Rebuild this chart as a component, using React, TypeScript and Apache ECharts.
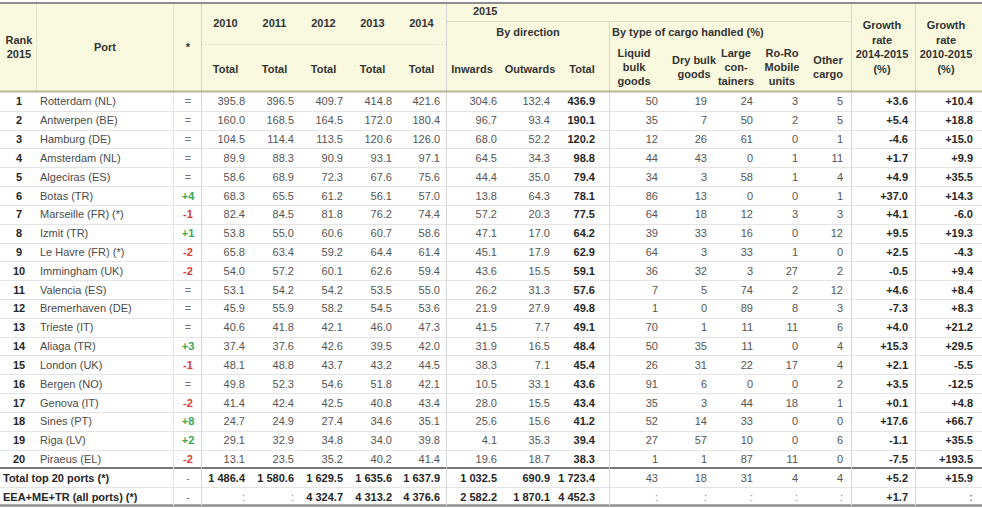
import React, { useEffect, useRef } from 'react';
import * as echarts from 'echarts';

// ---------- DATA ----------
const ranks = ['1', '2', '3', '4', '5', '6', '7', '8', '9', '10', '11', '12', '13', '14', '15', '16', '17', '18', '19', '20'];
const ports = [
  'Rotterdam (NL)', 'Antwerpen (BE)', 'Hamburg (DE)', 'Amsterdam (NL)', 'Algeciras (ES)',
  'Botas (TR)', 'Marseille (FR) (*)', 'Izmit (TR)', 'Le Havre (FR) (*)', 'Immingham (UK)',
  'Valencia (ES)', 'Bremerhaven (DE)', 'Trieste (IT)', 'Aliaga (TR)', 'London (UK)',
  'Bergen (NO)', 'Genova (IT)', 'Sines (PT)', 'Riga (LV)', 'Piraeus (EL)',
];
const rankChanges = ['=', '=', '=', '=', '=', '+4', '-1', '+1', '-2', '-2', '=', '=', '=', '+3', '-1', '=', '-2', '+8', '+2', '-2'];
const total2010 = [395.8, 160.0, 104.5, 89.9, 58.6, 68.3, 82.4, 53.8, 65.8, 54.0, 53.1, 45.9, 40.6, 37.4, 48.1, 49.8, 41.4, 24.7, 29.1, 13.1];
const total2011 = [396.5, 168.5, 114.4, 88.3, 68.9, 65.5, 84.5, 55.0, 63.4, 57.2, 54.2, 55.9, 41.8, 37.6, 48.8, 52.3, 42.4, 24.9, 32.9, 23.5];
const total2012 = [409.7, 164.5, 113.5, 90.9, 72.3, 61.2, 81.8, 60.6, 59.2, 60.1, 54.2, 58.2, 42.1, 42.6, 43.7, 54.6, 42.5, 27.4, 34.8, 35.2];
const total2013 = [414.8, 172.0, 120.6, 93.1, 67.6, 56.1, 76.2, 60.7, 64.4, 62.6, 53.5, 54.5, 46.0, 39.5, 43.2, 51.8, 40.8, 34.6, 34.0, 40.2];
const total2014 = [421.6, 180.4, 126.0, 97.1, 75.6, 57.0, 74.4, 58.6, 61.4, 59.4, 55.0, 53.6, 47.3, 42.0, 44.5, 42.1, 43.4, 35.1, 39.8, 41.4];
const inwards2015 = [304.6, 96.7, 68.0, 64.5, 44.4, 13.8, 57.2, 47.1, 45.1, 43.6, 26.2, 21.9, 41.5, 31.9, 38.3, 10.5, 28.0, 25.6, 4.1, 19.6];
const outwards2015 = [132.4, 93.4, 52.2, 34.3, 35.0, 64.3, 20.3, 17.0, 17.9, 15.5, 31.3, 27.9, 7.7, 16.5, 7.1, 33.1, 15.5, 15.6, 35.3, 18.7];
const total2015 = [436.9, 190.1, 120.2, 98.8, 79.4, 78.1, 77.5, 64.2, 62.9, 59.1, 57.6, 49.8, 49.1, 48.4, 45.4, 43.6, 43.4, 41.2, 39.4, 38.3];
const liquidBulk = [50, 35, 12, 44, 34, 86, 64, 39, 64, 36, 7, 1, 70, 50, 26, 91, 35, 52, 27, 1];
const dryBulk = [19, 7, 26, 43, 3, 13, 18, 33, 3, 32, 5, 0, 1, 35, 31, 6, 3, 14, 57, 1];
const largeContainers = [24, 50, 61, 0, 58, 0, 12, 16, 33, 3, 74, 89, 11, 11, 22, 0, 44, 33, 10, 87];
const roRoUnits = [3, 2, 0, 1, 1, 0, 3, 0, 1, 27, 2, 8, 11, 0, 17, 0, 18, 0, 0, 11];
const otherCargo = [5, 5, 1, 11, 4, 1, 3, 12, 0, 2, 12, 3, 6, 4, 4, 2, 1, 0, 6, 0];
const growth1415 = [3.6, 5.4, -4.6, 1.7, 4.9, 37.0, 4.1, 9.5, 2.5, -0.5, 4.6, -7.3, 4.0, 15.3, 2.1, 3.5, 0.1, 17.6, -1.1, -7.5];
const growth1015 = [10.4, 18.8, 15.0, 9.9, 35.5, 14.3, -6.0, 19.3, -4.3, 9.4, 8.4, 8.3, 21.2, 29.5, -5.5, -12.5, 4.8, 66.7, 35.5, 193.5];

const totalLabels = ['Total top 20 ports (*)', 'EEA+ME+TR (all ports) (*)'];
const totalChanges = ['-', '-'];
// column order: 2010..2014, inwards, outwards, total, liquid, dry, containers, roro, other, growth 14-15, growth 10-15
const top20Totals = [1486.4, 1580.6, 1629.5, 1635.6, 1637.9, 1032.5, 690.9, 1723.4, 43, 18, 31, 4, 4, 5.2, 15.9];
const allPortsTotals = [null, null, 4324.7, 4313.2, 4376.6, 2582.2, 1870.1, 4452.3, null, null, null, null, null, 1.7, null];

const yearLabels = ['2010', '2011', '2012', '2013', '2014'];

// ---------- LAYOUT ----------
const W = 982;
const FONT = '"Liberation Sans", Arial, sans-serif';
const HEADER_TOP = 3;
const HEADER_BOTTOM = 92;
const colRight = [245, 294, 343, 392, 440, 497, 550, 595, 658, 707, 753, 798, 843, 908, 973];
const colKind = ['t', 't', 't', 't', 't', 't', 't', 't', 'p', 'p', 'p', 'p', 'p', 'g', 'g'];
const colBold = [false, false, false, false, false, false, false, true, false, false, false, false, false, true, true];
const yearCenters = [225.5, 274.5, 323.5, 372.5, 421.5];

const C_TEXT = '#555555';
const C_PORT = '#4a4a4a';
const C_BOLD = '#262626';
const C_HEAD = '#333333';
const C_GREEN = '#35a853';
const C_RED = '#e03a32';

function fmtT(v: number | null, grouped: boolean): string {
  if (v === null) return ':';
  const s = v.toFixed(1);
  if (!grouped) return s;
  const [ip, dp] = s.split('.');
  return ip.replace(/\B(?=(\d{3})+(?!\d))/g, ' ') + '.' + dp;
}
function fmtG(v: number | null): string {
  if (v === null) return ':';
  return v > 0 ? '+' + v.toFixed(1) : v.toFixed(1);
}
function fmtCell(v: number | null, kind: string, grouped: boolean): string {
  if (v === null) return ':';
  if (kind === 'p') return String(v);
  if (kind === 'g') return fmtG(v);
  return fmtT(v, grouped);
}

function rowValues(i: number): (number | null)[] {
  if (i < 20) {
    return [
      total2010[i], total2011[i], total2012[i], total2013[i], total2014[i],
      inwards2015[i], outwards2015[i], total2015[i],
      liquidBulk[i], dryBulk[i], largeContainers[i], roRoUnits[i], otherCargo[i],
      growth1415[i], growth1015[i],
    ];
  }
  return i === 20 ? top20Totals : allPortsTotals;
}

function txt(x: number, y: number, text: string, align: string, font: string, fill: string, extra: any = {}) {
  return {
    type: 'text',
    silent: true,
    z: 10,
    style: {
      x, y, text,
      align, verticalAlign: 'middle',
      textAlign: align, textVerticalAlign: 'middle',
      font, fill,
      ...extra,
    },
  };
}
function ln(x1: number, y1: number, x2: number, y2: number, stroke: string, lineWidth: number, extra: any = {}) {
  return {
    type: 'line',
    silent: true,
    z: 5,
    shape: { x1, y1, x2, y2 },
    style: { stroke, lineWidth, ...extra },
  };
}

export default function App() {
  const ref = useRef<HTMLDivElement>(null);

  useEffect(() => {
    if (!ref.current) return;
    const chart = echarts.init(ref.current, null, { renderer: 'svg' });

    const hb = 'bold 11px ' + FONT;
    const header: any[] = [];
    header.push({ type: 'rect', silent: true, z: 1, shape: { x: 0, y: HEADER_TOP, width: W, height: HEADER_BOTTOM - HEADER_TOP }, style: { fill: '#f9f9df' } });
    // header texts
    header.push(txt(19, 47, 'Rank\n2015', 'center', hb, C_HEAD, { lineHeight: 14 }));
    header.push(txt(105, 47, 'Port', 'center', hb, C_HEAD));
    header.push(txt(188, 47, '*', 'center', hb, C_HEAD));
    yearLabels.forEach((yl, k) => {
      header.push(txt(yearCenters[k], 23, yl, 'center', hb, C_HEAD));
      header.push(txt(yearCenters[k], 69, 'Total', 'center', hb, C_HEAD));
    });
    header.push(txt(473, 11, '2015', 'left', hb, C_HEAD));
    header.push(txt(528, 32, 'By direction', 'center', hb, C_HEAD));
    header.push(txt(612, 32, 'By type of cargo handled (%)', 'left', hb, C_HEAD));
    header.push(txt(472, 69, 'Inwards', 'center', hb, C_HEAD));
    header.push(txt(530, 69, 'Outwards', 'center', hb, C_HEAD));
    header.push(txt(582, 69, 'Total', 'center', hb, C_HEAD));
    header.push(txt(634, 67, 'Liquid\nbulk\ngoods', 'center', hb, C_HEAD, { lineHeight: 14 }));
    header.push(txt(694, 67, 'Dry bulk\ngoods', 'center', hb, C_HEAD, { lineHeight: 14 }));
    header.push(txt(736, 67, 'Large\ncon-\ntainers', 'center', hb, C_HEAD, { lineHeight: 14 }));
    header.push(txt(782, 67, 'Ro-Ro\nMobile\nunits', 'center', hb, C_HEAD, { lineHeight: 14 }));
    header.push(txt(828, 67, 'Other\ncargo', 'center', hb, C_HEAD, { lineHeight: 14 }));
    header.push(txt(882, 47, 'Growth\nrate\n2014-2015\n(%)', 'center', hb, C_HEAD, { lineHeight: 14.6 }));
    header.push(txt(946, 47, 'Growth\nrate\n2010-2015\n(%)', 'center', hb, C_HEAD, { lineHeight: 14.6 }));

    // header inner lines
    header.push(ln(201, 44.5, 446, 44.5, '#dcdcc8', 1, { lineDash: [2, 2] }));
    header.push(ln(446, 21.5, 851, 21.5, '#dcdcc8', 1));
    header.push(ln(36.5, HEADER_TOP, 36.5, HEADER_BOTTOM, '#e2e2cc', 1));
    // vertical lines
    header.push(ln(173.5, HEADER_TOP, 173.5, 506, '#e4e4e4', 1));
    header.push(ln(201.5, HEADER_TOP, 201.5, 506, '#d4d4d4', 1));
    header.push(ln(446.5, HEADER_TOP, 446.5, 506, '#d4d4d4', 1));
    header.push(ln(609.5, 22, 609.5, 506, '#d4d4d4', 1));
    header.push(ln(851.5, HEADER_TOP, 851.5, 506, '#d4d4d4', 1));
    header.push(ln(915.5, HEADER_TOP, 915.5, 506, '#d4d4d4', 1));
    // borders
    header.push(ln(0, HEADER_TOP, W, HEADER_TOP, '#8e8e8e', 2));
    header.push(ln(0, 91.5, W, 91.5, '#b4b49a', 2));

    const rowCats = [...ranks, 'T20', 'ALL'];

    const option: any = {
      animation: false,
      backgroundColor: '#ffffff',
      grid: { left: 0, right: 0, top: HEADER_BOTTOM, bottom: 2, containLabel: false },
      xAxis: { type: 'value', min: 0, max: W, show: false },
      yAxis: { type: 'category', data: rowCats, inverse: true, show: false, boundaryGap: true },
      graphic: { elements: header },
      series: [
        {
          type: 'custom',
          coordinateSystem: 'cartesian2d',
          clip: false,
          encode: { x: 0, y: 1 },
          data: rowCats.map((_, i) => [0, i]),
          renderItem: (params: any, api: any) => {
            const i = api.value(1) as number;
            const cy = api.coord([0, i])[1];
            const h = api.size([0, 1])[1];
            const X = (v: number) => api.coord([v, i])[0];
            const f = '11px ' + FONT;
            const fb = 'bold 11px ' + FONT;
            const kids: any[] = [];
            const isTotal = i >= 20;
            if (!isTotal) {
              kids.push(txt(X(19), cy, ranks[i], 'center', fb, C_BOLD));
              kids.push(txt(X(40), cy, ports[i], 'left', f, C_PORT));
              const ch = rankChanges[i];
              const chColor = ch.startsWith('+') ? C_GREEN : ch.startsWith('-') ? C_RED : '#777777';
              kids.push(txt(X(188), cy, ch, 'center', ch === '=' ? f : fb, chColor));
            } else {
              kids.push(txt(X(3), cy, totalLabels[i - 20], 'left', fb, C_BOLD));
              kids.push(txt(X(188), cy, totalChanges[i - 20], 'center', f, '#777777'));
            }
            const vals = rowValues(i);
            vals.forEach((v, k) => {
              const kind = colKind[k];
              const bold = colBold[k] || (isTotal && (kind === 't' || kind === 'g') && v !== null);
              const color = v === null ? '#888888' : bold ? C_BOLD : C_TEXT;
              kids.push(txt(X(colRight[k]), cy, fmtCell(v, kind, isTotal), 'right', bold ? fb : f, color));
            });
            const yb = Math.round(cy + h / 2) + 0.5;
            if (i === 19) {
              kids.push(ln(0, yb - 0.5, W, yb - 0.5, '#4a4a4a', 1.5));
            } else if (i === 21) {
              kids.push(ln(0, yb - 1, W, yb - 1, '#8e8e8e', 2.5));
            } else {
              kids.push(ln(0, yb, W, yb, '#e4e4e4', 1));
            }
            return { type: 'group', children: kids };
          },
        },
      ],
    };

    chart.setOption(option);
    return () => chart.dispose();
  }, []);

  return (
    <div
      ref={ref}
      style={{ position: 'fixed', left: 0, top: 0, width: 982, height: 508, background: '#ffffff' }}
    />
  );
}
